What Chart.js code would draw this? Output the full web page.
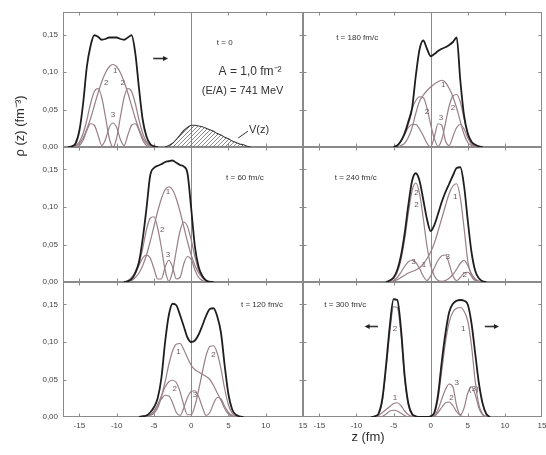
<!DOCTYPE html>
<html>
<head>
<meta charset="utf-8">
<script src="https://cdn.jsdelivr.net/npm/chart.js@4.4.1/dist/chart.umd.min.js"></script>
<style>
  body { margin: 0; width: 546px; height: 455px; overflow: hidden; background: #fff; position: relative; }
  canvas { position: absolute; }
</style>
</head>
<body>
<script>
// ticks
const xTicks = [-15, -10, -5, 0, 5, 10, 15];
const yTicks = [0, 0.05, 0.10, 0.15];

// t = 0
const zT0 = [-16.5, -16, -15.5, -15, -14.5, -14, -13.5, -13, -12.5, -12, -11.5, -11, -10.5, -10, -9.5, -9, -8.5, -8, -7.5, -7, -6.5, -6, -5.5, -5, -4.5];
const totalT0 = [0, 0.001, 0.005, 0.022, 0.058, 0.107, 0.135, 0.149, 0.147, 0.143, 0.144, 0.146, 0.146, 0.146, 0.144, 0.143, 0.146, 0.149, 0.125, 0.078, 0.036, 0.014, 0.004, 0.001, 0];
const c1T0 = [0, 0, 0.001, 0.005, 0.012, 0.024, 0.038, 0.055, 0.072, 0.087, 0.099, 0.107, 0.110, 0.107, 0.099, 0.087, 0.072, 0.055, 0.038, 0.024, 0.012, 0.005, 0.001, 0, 0];
const c2T0 = [0, 0, 0.002, 0.007, 0.018, 0.036, 0.058, 0.074, 0.078, 0.066, 0.040, 0.012, 0, 0.012, 0.040, 0.066, 0.078, 0.074, 0.058, 0.036, 0.018, 0.007, 0.002, 0, 0];
const c3T0 = [0, 0, 0, 0.002, 0.009, 0.022, 0.031, 0.029, 0.016, 0.002, 0.010, 0.026, 0.032, 0.026, 0.010, 0.002, 0.016, 0.029, 0.031, 0.022, 0.009, 0.002, 0, 0, 0];
// V(z)
const zV = [-3.5, -3, -2.5, -2, -1.5, -1, -0.5, 0, 0.5, 1, 1.5, 2, 2.5, 3, 3.5, 4, 4.5, 5, 5.5, 6, 6.5, 7, 7.5, 8];
const vPot = [0, 0.002, 0.005, 0.010, 0.016, 0.022, 0.026, 0.029, 0.029, 0.028, 0.027, 0.025, 0.023, 0.021, 0.018, 0.016, 0.013, 0.011, 0.008, 0.006, 0.004, 0.003, 0.001, 0];

// t = 180 fm/c
const zT180 = [-5, -4.5, -4, -3.5, -3, -2.5, -2, -1.5, -1, -0.5, 0, 0.5, 1, 1.5, 2, 2.5, 3, 3.5, 4, 4.5, 5, 5.5, 6, 6.5, 7];
const totalT180 = [0, 0.002, 0.008, 0.018, 0.033, 0.052, 0.095, 0.130, 0.142, 0.131, 0.121, 0.124, 0.128, 0.131, 0.133, 0.136, 0.140, 0.146, 0.088, 0.042, 0.018, 0.007, 0.003, 0.001, 0];
const c1T180 = [0, 0, 0.002, 0.005, 0.013, 0.026, 0.045, 0.061, 0.069, 0.075, 0.080, 0.084, 0.087, 0.089, 0.086, 0.078, 0.067, 0.052, 0.034, 0.017, 0.006, 0.002, 0, 0, 0];
const c2T180 = [0, 0.002, 0.008, 0.020, 0.036, 0.051, 0.062, 0.067, 0.066, 0.052, 0.030, 0.011, 0.001, 0.010, 0.032, 0.055, 0.068, 0.070, 0.060, 0.038, 0.018, 0.007, 0.002, 0, 0];
const c3T180 = [0, 0.002, 0.008, 0.017, 0.026, 0.030, 0.030, 0.024, 0.015, 0.005, 0, 0.014, 0.031, 0.029, 0.008, 0.002, 0.014, 0.026, 0.030, 0.024, 0.012, 0.004, 0.001, 0, 0];

// t = 60 fm/c
const zT60 = [-9, -8.5, -8, -7.5, -7, -6.5, -6, -5.5, -5, -4.5, -4, -3.5, -3, -2.5, -2, -1.5, -1, -0.5, 0, 0.5, 1, 1.5, 2, 2.5, 3];
const totalT60 = [0, 0.001, 0.004, 0.012, 0.027, 0.058, 0.098, 0.142, 0.152, 0.155, 0.157, 0.160, 0.161, 0.162, 0.159, 0.156, 0.154, 0.145, 0.098, 0.047, 0.020, 0.008, 0.002, 0, 0];
const c1T60 = [0, 0.001, 0.002, 0.006, 0.012, 0.022, 0.036, 0.054, 0.074, 0.094, 0.111, 0.123, 0.127, 0.123, 0.111, 0.094, 0.074, 0.054, 0.036, 0.022, 0.012, 0.006, 0.002, 0.001, 0];
const c2T60 = [0, 0.002, 0.006, 0.014, 0.025, 0.045, 0.070, 0.085, 0.087, 0.072, 0.046, 0.016, 0.001, 0.014, 0.042, 0.068, 0.080, 0.074, 0.056, 0.034, 0.016, 0.006, 0.002, 0, 0];
const c3T60 = [0, 0.001, 0.004, 0.011, 0.022, 0.032, 0.036, 0.032, 0.018, 0.004, 0.004, 0.020, 0.029, 0.020, 0.004, 0.006, 0.024, 0.034, 0.030, 0.016, 0.006, 0.002, 0, 0, 0];

// t = 240 fm/c
const zT240 = [-6, -5.5, -5, -4.5, -4, -3.5, -3, -2.5, -2, -1.5, -1, -0.5, 0, 0.5, 1, 1.5, 2, 2.5, 3, 3.5, 4, 4.5, 5, 5.5, 6, 6.5, 7, 7.5];
const totalT240 = [0, 0.002, 0.006, 0.016, 0.035, 0.065, 0.103, 0.135, 0.145, 0.135, 0.110, 0.084, 0.068, 0.076, 0.091, 0.107, 0.120, 0.131, 0.142, 0.152, 0.153, 0.128, 0.082, 0.040, 0.015, 0.005, 0.001, 0];
const c1T240 = [0, 0, 0.001, 0.003, 0.006, 0.009, 0.012, 0.014, 0.016, 0.019, 0.024, 0.031, 0.040, 0.052, 0.068, 0.085, 0.102, 0.118, 0.128, 0.131, 0.112, 0.072, 0.028, 0.008, 0.002, 0, 0, 0];
const c2T240 = [0, 0.002, 0.005, 0.013, 0.030, 0.057, 0.092, 0.122, 0.132, 0.118, 0.085, 0.048, 0.022, 0.008, 0.002, 0.001, 0.002, 0.005, 0.010, 0.017, 0.025, 0.029, 0.022, 0.011, 0.004, 0.001, 0, 0];
const c3T240 = [0, 0, 0.002, 0.006, 0.013, 0.021, 0.027, 0.029, 0.026, 0.018, 0.008, 0.002, 0.008, 0.019, 0.029, 0.035, 0.036, 0.024, 0.008, 0.002, 0.006, 0.012, 0.013, 0.008, 0.003, 0.001, 0, 0];

// t = 120 fm/c
const zT120 = [-7, -6.5, -6, -5.5, -5, -4.5, -4, -3.5, -3, -2.5, -2, -1.5, -1, -0.5, 0, 0.5, 1, 1.5, 2, 2.5, 3, 3.5, 4, 4.5, 5, 5.5, 6, 6.5, 7];
const totalT120 = [0, 0.001, 0.002, 0.006, 0.013, 0.025, 0.052, 0.100, 0.136, 0.151, 0.149, 0.136, 0.121, 0.106, 0.100, 0.102, 0.110, 0.122, 0.135, 0.144, 0.145, 0.134, 0.112, 0.068, 0.030, 0.010, 0.003, 0.001, 0];
const c1T120 = [0, 0, 0.001, 0.002, 0.005, 0.012, 0.027, 0.047, 0.070, 0.088, 0.097, 0.098, 0.090, 0.079, 0.069, 0.063, 0.060, 0.057, 0.054, 0.050, 0.042, 0.032, 0.022, 0.011, 0.004, 0.001, 0, 0, 0];
const c2T120 = [0, 0, 0.001, 0.003, 0.007, 0.016, 0.028, 0.040, 0.047, 0.049, 0.046, 0.034, 0.016, 0.003, 0.003, 0.015, 0.036, 0.060, 0.082, 0.094, 0.095, 0.085, 0.064, 0.037, 0.016, 0.005, 0.001, 0, 0];
const c3T120 = [0, 0, 0.001, 0.003, 0.008, 0.016, 0.024, 0.029, 0.028, 0.019, 0.006, 0.002, 0.012, 0.026, 0.034, 0.035, 0.027, 0.013, 0.002, 0.006, 0.018, 0.026, 0.024, 0.014, 0.006, 0.002, 0, 0, 0];

// t = 300 fm/c
const zT300 = [-8, -7.5, -7, -6.5, -6, -5.5, -5, -4.5, -4, -3.5, -3, -2.5, -2, -1.5, -1, -0.5, 0, 0.5, 1, 1.5, 2, 2.5, 3, 3.5, 4, 4.5, 5, 5.5, 6, 6.5, 7, 7.5, 8];
const totalT300 = [0, 0.001, 0.005, 0.025, 0.070, 0.122, 0.157, 0.156, 0.118, 0.055, 0.018, 0.004, 0.001, 0, 0, 0, 0.001, 0.006, 0.030, 0.074, 0.112, 0.140, 0.151, 0.155, 0.156, 0.155, 0.150, 0.125, 0.085, 0.045, 0.018, 0.004, 0];
const c1T300 = [0, 0, 0.002, 0.006, 0.010, 0.014, 0.018, 0.019, 0.015, 0.008, 0.003, 0.001, 0, 0, 0, 0, 0.001, 0.005, 0.025, 0.062, 0.100, 0.127, 0.140, 0.145, 0.146, 0.141, 0.128, 0.095, 0.048, 0.016, 0.004, 0.001, 0];
const c2T300 = [0, 0.001, 0.004, 0.022, 0.065, 0.113, 0.147, 0.146, 0.110, 0.050, 0.015, 0.003, 0, 0, 0, 0, 0, 0.001, 0.006, 0.013, 0.019, 0.020, 0.015, 0.007, 0.002, 0, 0, 0, 0, 0, 0, 0, 0];
const c3T300 = [0, 0, 0, 0.001, 0.004, 0.008, 0.009, 0.008, 0.005, 0.002, 0, 0, 0, 0, 0, 0, 0, 0.002, 0.010, 0.024, 0.037, 0.044, 0.040, 0.015, 0.003, 0.012, 0.032, 0.040, 0.030, 0.012, 0.003, 0, 0];

const FONT = '"Liberation Sans", sans-serif';
const TOTAL_COLOR = '#1e1e1e';
const COMP_COLOR = '#987f88';
const LABEL_COLOR = '#6a5860';

// canvas placement per column / row
const cols = [
    { left: 0, width: 312, padL: 0, padR: 9 },
    { left: 296, width: 250, padL: 7, padR: 4 }
];
const rows = [
    { top: 0, height: 154, padT: 12, padB: 7 },
    { top: 140, height: 149, padT: 7, padB: 7 },
    { top: 275, height: 180, padT: 7, padB: 0, xAxis: 38 }
];

const panels = [
    { col: 0, row: 0, z: zT0, total: totalT0, c1: c1T0, c2: c2T0, c3: c3T0, pot: true,
      notes: [
          { t: 't = 0', z: 4.5, v: 0.139, size: 8, color: '#333' },
          { t: 'A = 1,0 fm⁻²', z: 7.9, v: 0.100, size: 12, color: '#333' },
          { t: '(E/A) = 741 MeV', z: 6.9, v: 0.075, size: 11, color: '#333' },
          { t: 'V(z)', z: 9.1, v: 0.023, size: 11, color: '#333' },
          { t: '1', z: -10.2, v: 0.102 }, { t: '2', z: -11.4, v: 0.085 }, { t: '2', z: -9.2, v: 0.085 }, { t: '3', z: -10.5, v: 0.043 }
      ],
      arrows: [{ z1: -5.1, z2: -3.1, v: 0.119 }],
      lines: [{ z1: 7.6, v1: 0.021, z2: 6.3, v2: 0.012 }] },
    { col: 1, row: 0, z: zT180, total: totalT180, c1: c1T180, c2: c2T180, c3: c3T180,
      notes: [
          { t: 't = 180 fm/c', z: -9.9, v: 0.145, size: 8, color: '#333' },
          { t: '1', z: 1.7, v: 0.083 }, { t: '2', z: -0.5, v: 0.047 }, { t: '2', z: 3.0, v: 0.052 }, { t: '3', z: 1.4, v: 0.039 }
      ], arrows: [], lines: [] },
    { col: 0, row: 1, z: zT60, total: totalT60, c1: c1T60, c2: c2T60, c3: c3T60,
      notes: [
          { t: 't = 60 fm/c', z: 7.2, v: 0.139, size: 8, color: '#333' },
          { t: '1', z: -3.1, v: 0.120 }, { t: '2', z: -3.9, v: 0.069 }, { t: '3', z: -3.1, v: 0.036 }
      ], arrows: [], lines: [] },
    { col: 1, row: 1, z: zT240, total: totalT240, c1: c1T240, c2: c2T240, c3: c3T240,
      notes: [
          { t: 't = 240 fm/c', z: -10.1, v: 0.139, size: 8, color: '#333' },
          { t: '2', z: -1.9, v: 0.119 }, { t: '2', z: -1.9, v: 0.103 }, { t: '1', z: 3.3, v: 0.114 },
          { t: '3', z: -2.3, v: 0.027 }, { t: '1', z: -0.9, v: 0.023 }, { t: '3', z: 2.3, v: 0.034 }, { t: '2', z: 4.6, v: 0.009 }
      ], arrows: [], lines: [] },
    { col: 0, row: 2, z: zT120, total: totalT120, c1: c1T120, c2: c2T120, c3: c3T120,
      notes: [
          { t: 't = 120 fm/c', z: 9.5, v: 0.149, size: 8, color: '#333' },
          { t: '1', z: -1.7, v: 0.087 }, { t: '2', z: -2.2, v: 0.038 }, { t: '2', z: 3.0, v: 0.083 }, { t: '3', z: 0.5, v: 0.029 }
      ], arrows: [], lines: [] },
    { col: 1, row: 2, z: zT300, total: totalT300, c1: c1T300, c2: c2T300, c3: c3T300,
      notes: [
          { t: 't = 300 fm/c', z: -11.5, v: 0.149, size: 8, color: '#333' },
          { t: '2', z: -4.8, v: 0.118 }, { t: '1', z: -4.8, v: 0.025 }, { t: '1', z: 4.4, v: 0.118 },
          { t: '3', z: 3.5, v: 0.046 }, { t: '2', z: 2.8, v: 0.025 }, { t: '(3)', z: 5.8, v: 0.037 }
      ],
      arrows: [{ z1: -7.1, z2: -8.9, v: 0.121 }, { z1: 7.3, z2: 9.2, v: 0.121 }],
      lines: [] }
];

// diagonal hatching for V(z)
function hatchPattern() {
    const c = document.createElement('canvas');
    c.width = 4; c.height = 4;
    const g = c.getContext('2d');
    g.strokeStyle = '#6b6b6b';
    g.lineWidth = 0.8;
    g.beginPath();
    g.moveTo(0, 4); g.lineTo(4, 0);
    g.moveTo(-1, 1); g.lineTo(1, -1);
    g.moveTo(3, 5); g.lineTo(5, 3);
    g.stroke();
    return g.createPattern(c, 'repeat');
}

function pts(z, vals) {
    return z.map((x, i) => ({ x: x, y: vals[i] }));
}

function curve(z, vals, color, width) {
    return {
        data: pts(z, vals),
        borderColor: color,
        borderWidth: width,
        pointRadius: 0,
        fill: false,
        cubicInterpolationMode: 'monotone'
    };
}

// frame, inner ticks, z = 0 line and the annotations
function decor(p) {
    return {
        id: 'decor',
        beforeDatasetsDraw(chart) {
            const ctx = chart.ctx, a = chart.chartArea;
            const xs = chart.scales.x, ys = chart.scales.y;
            const L = Math.round(a.left) + 0.5, R = Math.round(a.right) - 0.5;
            const T = Math.round(a.top) + 0.5, B = Math.round(a.bottom) - 0.5;
            ctx.save();
            ctx.strokeStyle = '#8a8a8a';
            ctx.lineWidth = 1;
            ctx.strokeRect(L, T, R - L, B - T);
            ctx.beginPath();
            const x0 = Math.round(xs.getPixelForValue(0)) + 0.5;
            ctx.moveTo(x0, T); ctx.lineTo(x0, B);
            xTicks.forEach(v => {
                const px = Math.round(xs.getPixelForValue(v)) + 0.5;
                if (px > L + 1 && px < R - 1) {
                    ctx.moveTo(px, T); ctx.lineTo(px, T + 3);
                    ctx.moveTo(px, B); ctx.lineTo(px, B - 3);
                }
            });
            yTicks.forEach(v => {
                if (v === 0) return;
                const py = Math.round(ys.getPixelForValue(v)) + 0.5;
                ctx.moveTo(L, py); ctx.lineTo(L + 3, py);
                ctx.moveTo(R, py); ctx.lineTo(R - 3, py);
            });
            ctx.stroke();
            ctx.restore();
        },
        afterDatasetsDraw(chart) {
            const ctx = chart.ctx;
            const xs = chart.scales.x, ys = chart.scales.y;
            ctx.save();
            ctx.textAlign = 'center';
            ctx.textBaseline = 'middle';
            p.notes.forEach(n => {
                ctx.font = (n.size || 8) + 'px ' + FONT;
                ctx.fillStyle = n.color || LABEL_COLOR;
                ctx.fillText(n.t, xs.getPixelForValue(n.z), ys.getPixelForValue(n.v));
            });
            ctx.strokeStyle = '#333';
            ctx.fillStyle = '#222';
            ctx.lineWidth = 1;
            p.lines.forEach(l => {
                ctx.beginPath();
                ctx.moveTo(xs.getPixelForValue(l.z1), ys.getPixelForValue(l.v1));
                ctx.lineTo(xs.getPixelForValue(l.z2), ys.getPixelForValue(l.v2));
                ctx.stroke();
            });
            ctx.lineWidth = 1.6;
            p.arrows.forEach(ar => {
                const x1 = xs.getPixelForValue(ar.z1), x2 = xs.getPixelForValue(ar.z2);
                const y = Math.round(ys.getPixelForValue(ar.v)) + 0.5;
                const d = x2 > x1 ? 1 : -1;
                ctx.beginPath();
                ctx.moveTo(x1, y); ctx.lineTo(x2 - d * 3, y);
                ctx.stroke();
                ctx.beginPath();
                ctx.moveTo(x2, y); ctx.lineTo(x2 - d * 5, y - 2.5); ctx.lineTo(x2 - d * 5, y + 2.5);
                ctx.closePath();
                ctx.fill();
            });
            ctx.restore();
        }
    };
}

function makeChart(p) {
    const col = cols[p.col], row = rows[p.row];
    const cv = document.createElement('canvas');
    cv.width = col.width;
    cv.height = row.height;
    cv.style.left = col.left + 'px';
    cv.style.top = row.top + 'px';
    document.body.appendChild(cv);

    // total first so that it is drawn on top
    const datasets = [
        curve(p.z, p.total, TOTAL_COLOR, 1.8),
        curve(p.z, p.c1, COMP_COLOR, 1.2),
        curve(p.z, p.c2, COMP_COLOR, 1.2),
        curve(p.z, p.c3, COMP_COLOR, 1.2)
    ];
    if (p.pot) {
        const pot = curve(zV, vPot, '#3a3a3a', 1.1);
        pot.fill = 'origin';
        pot.backgroundColor = hatchPattern();
        datasets.push(pot);
    }

    const showX = !!row.xAxis, showY = p.col === 0;
    const xScale = {
        type: 'linear', min: -17.2, max: 15, display: showX,
        grid: { display: false, drawTicks: false }, border: { display: false },
        afterBuildTicks: s => { s.ticks = xTicks.map(v => ({ value: v })); },
        ticks: { font: { family: FONT, size: 8 }, color: '#444', padding: 4, maxRotation: 0, autoSkip: false, callback: v => String(v) }
    };
    if (showX) xScale.afterFit = s => { s.height = row.xAxis; s.paddingLeft = 0; s.paddingRight = 0; };
    const yScale = {
        type: 'linear', min: 0, max: 0.18, display: showY,
        grid: { display: false, drawTicks: false }, border: { display: false },
        afterBuildTicks: s => { s.ticks = yTicks.map(v => ({ value: v })); },
        ticks: { font: { family: FONT, size: 8 }, color: '#444', padding: 5, autoSkip: false, callback: v => v.toFixed(2).replace('.', ',') }
    };
    if (showY) yScale.afterFit = s => { s.width = 63; s.paddingTop = 0; s.paddingBottom = 0; };

    return new Chart(cv, {
        type: 'line',
        data: { datasets: datasets },
        options: {
            responsive: false,
            animation: false,
            devicePixelRatio: 1,
            layout: { padding: { left: col.padL, right: col.padR, top: row.padT, bottom: row.padB } },
            plugins: { legend: { display: false }, tooltip: { enabled: false } },
            scales: { x: xScale, y: yScale }
        },
        plugins: [decor(p)]
    });
}

panels.forEach(makeChart);

// axis titles that span several panels
const tc = document.createElement('canvas');
tc.width = 546; tc.height = 455;
tc.style.left = '0px'; tc.style.top = '0px';
document.body.appendChild(tc);
const tctx = tc.getContext('2d');
tctx.fillStyle = '#2e2e2e';
tctx.font = '13px ' + FONT;
tctx.textAlign = 'center';
tctx.textBaseline = 'middle';
tctx.fillText('z (fm)', 368, 437);
tctx.save();
tctx.translate(20, 126);
tctx.rotate(-Math.PI / 2);
tctx.fillText('ρ (z) (fm⁻³)', 0, 0);
tctx.restore();
</script>
</body>
</html>
